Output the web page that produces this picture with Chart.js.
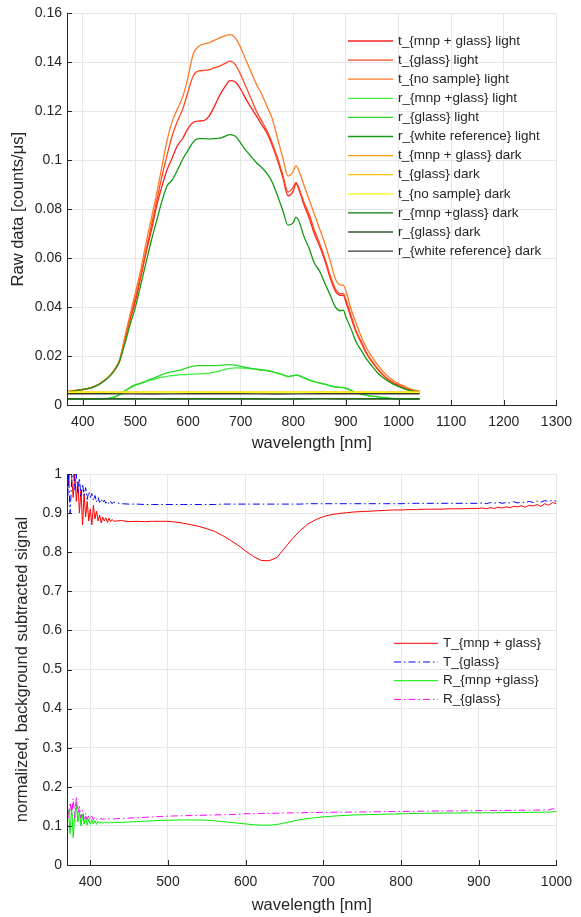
<!DOCTYPE html>
<html><head><meta charset="utf-8">
<script src="https://cdn.jsdelivr.net/npm/chart.js@4.4.1/dist/chart.umd.min.js"></script>
<style>
body{margin:0;background:#fff;width:581px;height:917px;overflow:hidden;position:relative}
canvas{position:absolute;left:0}
</style></head><body>
<canvas id="raw" width="581" height="458" style="top:0px"></canvas>
<canvas id="norm" width="581" height="459" style="top:458px"></canvas>
<script>
// ---------- DATA: top chart (raw spectra) ----------
const rawWavelength = [370,380,390,400,410,420,430,440,450,460,470,480,490,500,510,520,530,540,550,560,570,580,590,600,610,620,630,640,650,660,670,680,690,700,710,720,730,740,750,760,770,780,790,800,805,810,820,830,840,850,860,870,880,890,895,900,910,920,930,940,950,960,970,980,990,1000,1010,1020,1030,1040];
const tMnpGlassLight = [0.0054,0.0057,0.0060,0.0063,0.0067,0.0073,0.0083,0.0098,0.0116,0.0142,0.0180,0.0268,0.0350,0.0425,0.0520,0.0620,0.0710,0.0810,0.0890,0.0960,0.1010,0.1060,0.1090,0.1130,0.1155,0.1160,0.1162,0.1180,0.1220,0.1265,0.1300,0.1325,0.1320,0.1290,0.1250,0.1215,0.1180,0.1145,0.1110,0.1060,0.1000,0.0930,0.0855,0.0875,0.0905,0.0885,0.0820,0.0765,0.0700,0.0650,0.0590,0.0520,0.0465,0.0448,0.0448,0.0420,0.0355,0.0295,0.0250,0.0207,0.0175,0.0147,0.0123,0.0104,0.0090,0.0080,0.0071,0.0063,0.0057,0.0053];
const tGlassLight = [0.0055,0.0058,0.0061,0.0064,0.0068,0.0074,0.0084,0.0099,0.0117,0.0143,0.0182,0.0270,0.0360,0.0440,0.0530,0.0630,0.0730,0.0830,0.0930,0.1020,0.1100,0.1160,0.1210,0.1280,0.1345,0.1365,0.1367,0.1370,0.1378,0.1385,0.1395,0.1405,0.1390,0.1350,0.1300,0.1250,0.1200,0.1160,0.1120,0.1070,0.1010,0.0940,0.0870,0.0890,0.0910,0.0890,0.0830,0.0780,0.0715,0.0660,0.0600,0.0530,0.0475,0.0455,0.0455,0.0430,0.0365,0.0300,0.0255,0.0210,0.0178,0.0150,0.0125,0.0106,0.0092,0.0081,0.0072,0.0064,0.0058,0.0054];
const tNoSampleLight = [0.0055,0.0058,0.0061,0.0064,0.0068,0.0074,0.0085,0.0100,0.0118,0.0145,0.0185,0.0280,0.0370,0.0460,0.0550,0.0660,0.0760,0.0860,0.0970,0.1080,0.1160,0.1210,0.1260,0.1340,0.1435,0.1465,0.1475,0.1480,0.1490,0.1500,0.1508,0.1513,0.1500,0.1460,0.1410,0.1360,0.1310,0.1270,0.1220,0.1170,0.1090,0.1010,0.0935,0.0955,0.0978,0.0960,0.0900,0.0840,0.0780,0.0720,0.0660,0.0590,0.0515,0.0490,0.0490,0.0465,0.0390,0.0330,0.0275,0.0230,0.0195,0.0165,0.0138,0.0117,0.0100,0.0088,0.0078,0.0068,0.0061,0.0057];
const rMnpGlassLight = [0.0024,0.0024,0.0024,0.0024,0.0024,0.0024,0.0024,0.0025,0.0027,0.0032,0.0042,0.0056,0.0070,0.0080,0.0087,0.0095,0.0102,0.0108,0.0113,0.0117,0.0120,0.0122,0.0124,0.0125,0.0126,0.0127,0.0128,0.0130,0.0134,0.0139,0.0145,0.0150,0.0152,0.0151,0.0150,0.0149,0.0146,0.0143,0.0140,0.0135,0.0129,0.0123,0.0116,0.0119,0.0122,0.0120,0.0111,0.0102,0.0095,0.0089,0.0084,0.0078,0.0073,0.0071,0.0071,0.0068,0.0059,0.0049,0.0043,0.0039,0.0035,0.0033,0.0030,0.0028,0.0026,0.0025,0.0024,0.0024,0.0023,0.0023];
const rGlassLight = [0.0025,0.0025,0.0025,0.0025,0.0025,0.0025,0.0025,0.0026,0.0028,0.0033,0.0043,0.0058,0.0072,0.0083,0.0089,0.0098,0.0106,0.0114,0.0124,0.0131,0.0136,0.0140,0.0146,0.0153,0.0159,0.0161,0.0161,0.0161,0.0161,0.0162,0.0164,0.0165,0.0163,0.0158,0.0154,0.0150,0.0146,0.0143,0.0141,0.0136,0.0130,0.0124,0.0117,0.0120,0.0123,0.0121,0.0112,0.0103,0.0096,0.0090,0.0085,0.0079,0.0074,0.0072,0.0072,0.0069,0.0060,0.0050,0.0044,0.0040,0.0036,0.0034,0.0031,0.0029,0.0027,0.0026,0.0025,0.0025,0.0024,0.0024];
const rWhiteLight = [0.0053,0.0056,0.0060,0.0063,0.0067,0.0073,0.0083,0.0097,0.0115,0.0140,0.0180,0.0250,0.0330,0.0400,0.0490,0.0580,0.0670,0.0750,0.0830,0.0895,0.0920,0.0960,0.1005,0.1040,0.1075,0.1088,0.1088,0.1087,0.1088,0.1090,0.1098,0.1105,0.1098,0.1070,0.1040,0.1015,0.0990,0.0970,0.0946,0.0910,0.0855,0.0795,0.0735,0.0745,0.0768,0.0755,0.0690,0.0640,0.0580,0.0547,0.0497,0.0450,0.0400,0.0385,0.0388,0.0360,0.0310,0.0255,0.0220,0.0185,0.0158,0.0132,0.0113,0.0097,0.0085,0.0075,0.0067,0.0060,0.0056,0.0053];
const darkWavelength = [370,450,530,610,690,770,850,930,1040];
const tMnpGlassDark = [0.0052,0.0052,0.0053,0.0052,0.0052,0.0053,0.0052,0.0052,0.0052];
const tGlassDark = [0.0051,0.0051,0.0051,0.0052,0.0051,0.0051,0.0052,0.0051,0.0051];
const tNoSampleDark = [0.0052,0.0053,0.0052,0.0052,0.0053,0.0052,0.0052,0.0053,0.0052];
const rMnpGlassDark = [0.0026,0.0026,0.0025,0.0026,0.0026,0.0025,0.0026,0.0026,0.0026];
const rGlassDark = [0.0024,0.0024,0.0025,0.0024,0.0024,0.0024,0.0025,0.0024,0.0024];
const rWhiteDark = [0.0046,0.0046,0.0045,0.0046,0.0046,0.0045,0.0046,0.0046,0.0046];
const rawLabels = ['t_{mnp + glass} light','t_{glass} light','t_{no sample} light','r_{mnp +glass} light','r_{glass} light','r_{white reference} light','t_{mnp + glass} dark','t_{glass} dark','t_{no sample} dark','r_{mnp +glass} dark','r_{glass} dark','r_{white reference} dark'];
const rawXTicks = [400,500,600,700,800,900,1000,1100,1200,1300];
const rawYTicks = [0,0.02,0.04,0.06,0.08,0.1,0.12,0.14,0.16];

// ---------- DATA: bottom chart (normalized signal) ----------
const normWavelength = [370,372,374,376,378,380,382,384,386,388,390,392,394,396,398,400,402,404,406,408,410,412,414,416,418,420,422,424,426,428,430,440,450,460,470,480,490,500,510,520,530,540,550,560,570,580,590,600,610,620,630,640,650,660,670,680,690,700,710,720,730,740,750,760,770,780,790,800,810,820,830,840,850,860,870,880,890,900,905,910,915,920,925,930,935,940,945,950,955,960,965,970,975,980,985,990,995,1000];
const TMnpGlass = [1.02,0.97,1.03,0.99,0.94,1.00,0.93,0.98,0.90,0.96,0.87,0.95,0.89,0.93,0.88,0.91,0.87,0.92,0.885,0.905,0.88,0.895,0.875,0.89,0.88,0.888,0.876,0.887,0.878,0.884,0.879,
 0.881,0.878,0.879,0.878,0.879,0.879,0.879,0.877,0.874,0.870,0.866,0.860,0.853,0.843,0.831,0.818,0.803,0.789,0.779,0.778,0.786,0.810,0.834,0.855,0.872,0.883,0.891,0.896,0.899,0.901,0.903,0.904,0.905,0.906,0.907,0.908,0.908,0.909,0.909,0.910,0.910,0.910,0.911,0.911,0.911,0.912,0.912,
 0.913,0.911,0.914,0.912,0.915,0.913,0.916,0.914,0.917,0.916,0.919,0.915,0.920,0.918,0.922,0.917,0.924,0.920,0.927,0.924];
const TGlass = [0.87,1.00,0.90,0.98,1.02,0.96,1.00,0.95,0.99,0.94,0.975,0.945,0.965,0.935,0.955,0.94,0.95,0.932,0.945,0.928,0.94,0.927,0.936,0.926,0.933,0.925,0.931,0.923,0.930,0.924,0.928,
 0.924,0.923,0.923,0.922,0.922,0.922,0.922,0.922,0.922,0.922,0.922,0.922,0.922,0.923,0.923,0.923,0.923,0.923,0.923,0.923,0.923,0.923,0.923,0.923,0.924,0.924,0.924,0.924,0.924,0.924,0.924,0.924,0.924,0.924,0.924,0.924,0.924,0.925,0.925,0.925,0.925,0.925,0.925,0.925,0.925,0.925,0.925,
 0.926,0.924,0.927,0.925,0.928,0.925,0.927,0.926,0.929,0.926,0.928,0.927,0.930,0.927,0.931,0.928,0.932,0.929,0.933,0.930];
const RMnpGlass = [0.12,0.14,0.08,0.15,0.07,0.13,0.155,0.11,0.14,0.10,0.13,0.105,0.125,0.102,0.118,0.104,0.116,0.105,0.113,0.104,0.112,0.106,0.111,0.106,0.110,0.107,0.110,0.107,0.109,0.108,0.109,
 0.109,0.110,0.111,0.112,0.113,0.114,0.1145,0.115,0.1152,0.1153,0.115,0.1145,0.113,0.111,0.109,0.107,0.105,0.103,0.102,0.1018,0.1035,0.1075,0.112,0.116,0.119,0.121,0.123,0.1245,0.126,0.127,0.128,0.1285,0.129,0.1295,0.130,0.1305,0.131,0.1315,0.132,0.132,0.1325,0.1325,0.133,0.133,0.1332,0.1333,0.1335,
 0.1336,0.1334,0.1338,0.1335,0.1340,0.1337,0.1342,0.1338,0.1344,0.1340,0.1346,0.1342,0.1348,0.1344,0.1352,0.1347,0.1356,0.1350,0.1362,0.1370];
const RGlass = [0.15,0.12,0.16,0.13,0.17,0.12,0.175,0.13,0.15,0.12,0.14,0.118,0.132,0.116,0.127,0.117,0.125,0.116,0.122,0.116,0.120,0.116,0.119,0.1165,0.118,0.117,0.118,0.1175,0.118,0.1178,0.118,
 0.119,0.120,0.121,0.122,0.123,0.124,0.125,0.1255,0.126,0.1265,0.127,0.1275,0.128,0.1285,0.129,0.130,0.131,0.1315,0.132,0.1322,0.1325,0.133,0.1333,0.1336,0.134,0.1343,0.1346,0.1349,0.135,0.1352,0.1355,0.1357,0.136,0.1362,0.1365,0.1367,0.137,0.1372,0.1374,0.1376,0.1378,0.138,0.1382,0.1384,0.1386,0.1388,0.139,
 0.1392,0.1388,0.1394,0.1390,0.1396,0.1392,0.1398,0.1394,0.1400,0.1396,0.1402,0.1398,0.1404,0.1400,0.1406,0.1402,0.1410,0.1404,0.1440,0.1420];
const normLabels = ['T_{mnp + glass}','T_{glass}','R_{mnp +glass}','R_{glass}'];
const normXTicks = [400,500,600,700,800,900,1000];
const normYTicks = [0,0.1,0.2,0.3,0.4,0.5,0.6,0.7,0.8,0.9,1];

// ---------- styling / helpers ----------
const FONT = "'Liberation Sans', Arial, Helvetica, sans-serif";
const TXT = '#262626';
const GRID = '#e6e6e6';
const AXIS = '#262626';
const fmt = v => String(+(+v).toFixed(4));
const pts = (xs, ys) => xs.map((x, i) => ({x: x, y: ys[i]}));

const axesOverlay = {
  id: 'axesOverlay',
  afterDatasetsDraw(chart) {
    const {ctx, chartArea: a, scales: {x, y}} = chart;
    ctx.save();
    ctx.strokeStyle = AXIS; ctx.lineWidth = 1;
    ctx.beginPath();
    x.ticks.forEach(t => { const px = Math.round(x.getPixelForValue(t.value)) + 0.5; ctx.moveTo(px, a.bottom); ctx.lineTo(px, a.bottom - 5); });
    y.ticks.forEach(t => { const py = Math.round(y.getPixelForValue(t.value)) + 0.5; ctx.moveTo(a.left, py); ctx.lineTo(a.left + 5, py); });
    const L = Math.round(a.left) + 0.5, B = Math.round(a.bottom) + 0.5;
    ctx.moveTo(L, a.top); ctx.lineTo(L, B); ctx.lineTo(a.right, B);
    ctx.stroke();
    ctx.restore();
  }
};
const inlineLegend = {
  id: 'inlineLegend',
  afterDraw(chart, args, o) {
    const {ctx} = chart;
    ctx.save();
    ctx.font = o.fontSize + 'px ' + FONT;
    ctx.textBaseline = 'middle'; ctx.textAlign = 'left';
    chart.data.datasets.forEach((ds, i) => {
      const y = o.y + i * o.step;
      ctx.strokeStyle = ds.borderColor; ctx.lineWidth = ds.borderWidth;
      ctx.setLineDash(ds.borderDash || []);
      ctx.beginPath(); ctx.moveTo(o.x0, y); ctx.lineTo(o.x1, y); ctx.stroke();
      ctx.setLineDash([]);
      ctx.fillStyle = TXT; ctx.fillText(ds.label, o.tx, y);
    });
    ctx.restore();
  }
};

function makeOptions(cfg) {
  return {
    responsive: false, animation: false, events: [],
    layout: {padding: {top: cfg.top, right: cfg.right, left: 0, bottom: 0}},
    plugins: {legend: {display: false}, tooltip: {enabled: false}, inlineLegend: cfg.legend},
    scales: {
      x: {
        type: 'linear', min: cfg.xmin, max: cfg.xmax,
        afterFit: s => { s.height = cfg.xh; },
        afterBuildTicks: s => { s.ticks = cfg.xticks.map(v => ({value: v})); },
        grid: {color: GRID, drawTicks: false},
        border: {display: true, color: AXIS},
        ticks: {padding: 9, color: TXT, font: {family: FONT, size: 14}, maxRotation: 0, autoSkip: false, callback: fmt},
        title: {display: true, text: 'wavelength [nm]', color: TXT, font: {family: FONT, size: 16.5}, padding: {top: 0, bottom: cfg.xtpad}}
      },
      y: {
        type: 'linear', min: cfg.ymin, max: cfg.ymax,
        afterFit: s => { s.width = 67; },
        afterBuildTicks: s => { s.ticks = cfg.yticks.map(v => ({value: v})); },
        grid: {color: GRID, drawTicks: false},
        border: {display: true, color: AXIS},
        ticks: {padding: 5, color: TXT, font: {family: FONT, size: 14}, autoSkip: false, callback: fmt},
        title: {display: true, text: cfg.ytitle, color: TXT, font: {family: FONT, size: 16.5}, padding: {top: cfg.ytpad, bottom: 0}}
      }
    }
  };
}

function ds(label, data, color, width, dash) {
  return {label: label, data: data, borderColor: color, backgroundColor: color, borderWidth: width,
    borderDash: dash || [], pointRadius: 0, fill: false, tension: 0, spanGaps: true};
}

const rawColors = ['#ff1f1f','#ff4a1c','#ff7a26','#3df23d','#2ad62a','#129a12','#ff9a00','#ffc800','#ffff1a','#0a7a0a','#2f5a2f','#3a3a3a'];
const rawSeries = [
  pts(rawWavelength, tMnpGlassLight), pts(rawWavelength, tGlassLight), pts(rawWavelength, tNoSampleLight),
  pts(rawWavelength, rMnpGlassLight), pts(rawWavelength, rGlassLight), pts(rawWavelength, rWhiteLight),
  pts(darkWavelength, tMnpGlassDark), pts(darkWavelength, tGlassDark), pts(darkWavelength, tNoSampleDark),
  pts(darkWavelength, rMnpGlassDark), pts(darkWavelength, rGlassDark), pts(darkWavelength, rWhiteDark)
];
const rawDatasets = rawSeries.map((d, i) => Object.assign(ds(rawLabels[i], d, rawColors[i], 1.3), {order: -i, cubicInterpolationMode: 'monotone'}));

new Chart(document.getElementById('raw'), {
  type: 'line',
  data: {datasets: rawDatasets},
  options: makeOptions({top: 12.7, right: 17, xmin: 370, xmax: 1300, ymin: 0, ymax: 0.16,
    xh: 458 - 405, xtpad: 4.5, ytpad: 9, xticks: rawXTicks, yticks: rawYTicks,
    ytitle: 'Raw data [counts/\u03bcs]',
    legend: {x0: 348, x1: 393, tx: 398, y: 41, step: 19.1, fontSize: 13.5}}),
  plugins: [axesOverlay, inlineLegend]
});

const normColors = ['#ff0000','#0000ff','#00ee00','#ff00ff'];
const normDash = [[], [7,3,1.5,3], [], [7,3,1.5,3]];
const normSeries = [pts(normWavelength, TMnpGlass), pts(normWavelength, TGlass), pts(normWavelength, RMnpGlass), pts(normWavelength, RGlass)];
const normDatasets = normSeries.map((d, i) => Object.assign(ds(normLabels[i], d, normColors[i], 1, normDash[i]), {order: -i}));

new Chart(document.getElementById('norm'), {
  type: 'line',
  data: {datasets: normDatasets},
  options: makeOptions({top: 16, right: 17, xmin: 370, xmax: 1000, ymin: 0, ymax: 1,
    xh: 459 - 407, xtpad: 1.5, ytpad: 13, xticks: normXTicks, yticks: normYTicks,
    ytitle: 'normalized, background subtracted signal',
    legend: {x0: 394, x1: 438, tx: 443, y: 185.3, step: 18.7, fontSize: 13.5}}),
  plugins: [axesOverlay, inlineLegend]
});
</script>
</body></html>
